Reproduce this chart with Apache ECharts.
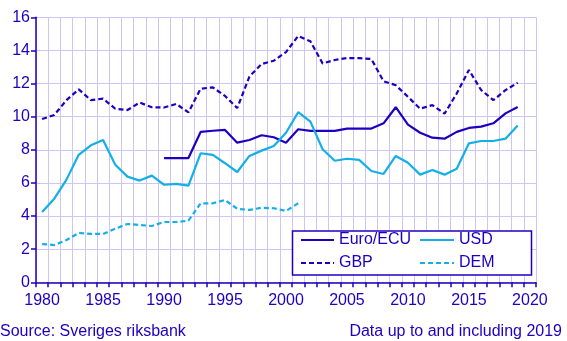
<!DOCTYPE html>
<html>
<head>
<meta charset="utf-8">
<script src="https://cdn.jsdelivr.net/npm/echarts@6/dist/echarts.min.js"></script>
<style>
  html, body { margin: 0; padding: 0; background: #ffffff; }
  #chart { width: 567px; height: 341px; }
</style>
</head>
<body>
<div id="chart"></div>
<script>
// Years on the category axis (1980–2020)
var years = [];
for (var y = 1980; y <= 2020; y++) years.push(String(y));

// Annual values per currency, 1980–2019 (null where no data)
var euroEcu = [null, null, null, null, null, null, null, null, null, null,
  7.5, 7.5, 7.5, 9.08, 9.15, 9.2, 8.43, 8.59, 8.88, 8.76,
  8.43, 9.24, 9.14, 9.14, 9.14, 9.28, 9.28, 9.28, 9.6, 10.57,
  9.52, 9.03, 8.73, 8.67, 9.08, 9.32, 9.4, 9.6, 10.2, 10.59, null];

var usd = [4.25, 5.05, 6.2, 7.7, 8.27, 8.59, 7.1, 6.38, 6.14, 6.44,
  5.89, 5.94, 5.84, 7.79, 7.69, 7.19, 6.66, 7.63, 7.95, 8.23,
  9.03, 10.27, 9.7, 8.03, 7.34, 7.46, 7.39, 6.72, 6.54, 7.63,
  7.22, 6.5, 6.78, 6.5, 6.86, 8.39, 8.53, 8.53, 8.67, 9.46, null];

var gbp = [9.86, 10.1, 11.0, 11.65, 11.0, 11.09, 10.48, 10.4, 10.85, 10.57,
  10.55, 10.77, 10.26, 11.69, 11.77, 11.25, 10.52, 12.42, 13.18, 13.38,
  13.9, 14.87, 14.55, 13.22, 13.42, 13.54, 13.54, 13.48, 12.14, 11.9,
  11.2, 10.48, 10.7, 10.18, 11.4, 12.82, 11.61, 11.0, 11.6, 12.05, null];

var dem = [2.31, 2.25, 2.55, 2.98, 2.92, 2.92, 3.24, 3.52, 3.46, 3.4,
  3.64, 3.64, 3.72, 4.77, 4.77, 4.97, 4.44, 4.37, 4.5, 4.47,
  4.31, 4.77, null, null, null, null, null, null, null, null,
  null, null, null, null, null, null, null, null, null, null, null];

var yTicks = { min: 0, max: 16, step: 2 };

var DARK = '#1e00be';
var LIGHT = '#14afe6';
var GRID = '#cbc6f3';
var FONT = '"Liberation Sans", Arial, sans-serif';

var chart = echarts.init(document.getElementById('chart'), null, { renderer: 'canvas' });

function lineSeries(name, data, color, dashed) {
  return {
    name: name,
    type: 'line',
    data: data,
    symbol: 'none',
    connectNulls: false,
    lineStyle: { color: color, width: 2.2, type: dashed ? [5, 3] : 'solid' },
    itemStyle: { color: color },
    z: 2
  };
}

var legendText = { color: DARK, fontSize: 16, fontFamily: FONT, lineHeight: 16 };
// Legend entries show only the line sample, no marker
var legendMarker = { color: 'transparent', borderColor: 'transparent', borderWidth: 0, opacity: 0 };

chart.setOption({
  animation: false,
  backgroundColor: '#ffffff',
  grid: { left: 36, right: 31, top: 17.3, bottom: 58.7, containLabel: false },
  xAxis: {
    type: 'category',
    data: years,
    boundaryGap: true,
    axisLine: { show: true, lineStyle: { color: DARK, width: 1.5 } },
    axisTick: { show: true, interval: 0, length: 5, lineStyle: { color: DARK, width: 1.5 } },
    axisLabel: { interval: 4, color: DARK, fontSize: 16, fontFamily: FONT, margin: 10 },
    splitLine: { show: true, interval: 0, lineStyle: { color: GRID, width: 1 } }
  },
  yAxis: {
    type: 'value',
    min: yTicks.min,
    max: yTicks.max,
    interval: yTicks.step,
    axisLine: { show: true, lineStyle: { color: DARK, width: 1.5 } },
    axisTick: { show: true, length: 5, lineStyle: { color: DARK, width: 1.5 } },
    axisLabel: { color: DARK, fontSize: 16, fontFamily: FONT, margin: 6 },
    splitLine: { show: true, lineStyle: { color: GRID, width: 1 } }
  },
  legend: [
    {
      data: ['Euro/ECU', 'GBP'],
      orient: 'vertical',
      left: 300, top: 232, padding: 0,
      itemWidth: 33, itemHeight: 14, itemGap: 7,
      itemStyle: legendMarker,
      textStyle: legendText,
      z: 10
    },
    {
      data: ['USD', 'DEM'],
      orient: 'vertical',
      left: 419, top: 232, padding: 0,
      itemWidth: 34, itemHeight: 14, itemGap: 7,
      itemStyle: legendMarker,
      textStyle: legendText,
      z: 10
    }
  ],
  graphic: [
    {
      type: 'rect',
      z: 8,
      shape: { x: 292.5, y: 231, width: 239, height: 44 },
      style: { fill: '#ffffff', stroke: DARK, lineWidth: 1.5 }
    },
    {
      type: 'text',
      left: 0, top: 324,
      style: { text: 'Source: Sveriges riksbank', fill: DARK, font: '16px ' + FONT }
    },
    {
      type: 'text',
      right: 5, top: 324,
      style: { text: 'Data up to and including 2019', fill: DARK, font: '16px ' + FONT }
    }
  ],
  series: [
    lineSeries('Euro/ECU', euroEcu, DARK, false),
    lineSeries('USD', usd, LIGHT, false),
    lineSeries('GBP', gbp, DARK, true),
    lineSeries('DEM', dem, LIGHT, true)
  ]
});
</script>
</body>
</html>
